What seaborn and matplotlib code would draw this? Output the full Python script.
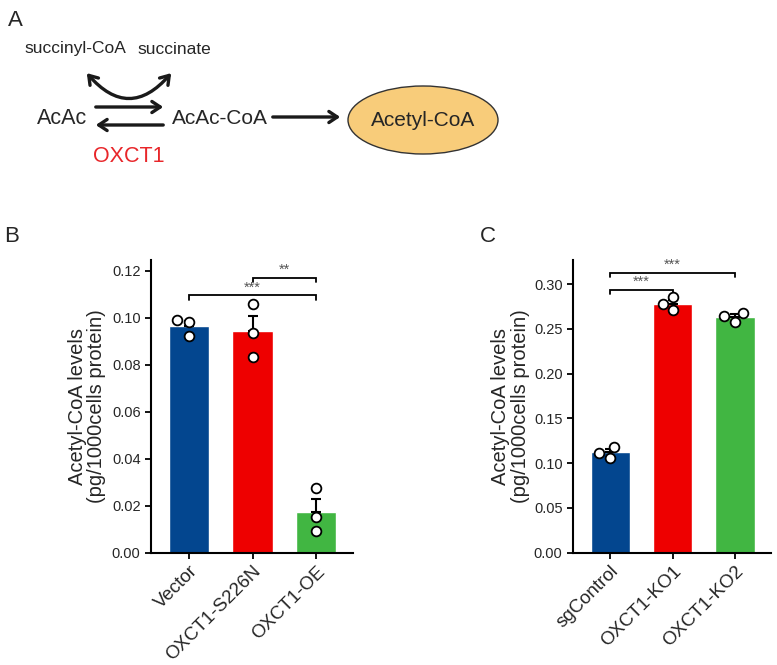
import matplotlib
matplotlib.use("Agg")
import matplotlib.pyplot as plt
from matplotlib.patches import Ellipse, FancyArrowPatch
import numpy as np
import pandas as pd
import seaborn as sns

sns.set_style("ticks")
plt.rcParams["font.family"] = ["Liberation Sans", "DejaVu Sans"]

# panel B data (replicates)
groups_b = ["Vector", "OXCT1-S226N", "OXCT1-OE"]
reps_b = [[0.0980, 0.0990, 0.0924], [0.1059, 0.0934, 0.0834], [0.0278, 0.0155, 0.0094]]
yticks_b = [0.00, 0.02, 0.04, 0.06, 0.08, 0.10, 0.12]

# panel C data
groups_c = ["sgControl", "OXCT1-KO1", "OXCT1-KO2"]
reps_c = [[0.1183, 0.1116, 0.1060], [0.2709, 0.2783, 0.2857], [0.2578, 0.2641, 0.2678]]
yticks_c = [0.00, 0.05, 0.10, 0.15, 0.20, 0.25, 0.30]

bar_colors = ["#03468F", "#EE0000", "#41B642"]
text_col = "#262626"


def to_frame(groups, reps):
    rows = [(g, v) for g, vals in zip(groups, reps) for v in vals]
    return pd.DataFrame(rows, columns=["group", "value"])


def bracket(ax, x1, x2, y, drop, label):
    ax.plot([x1, x1, x2, x2], [y - drop, y, y, y - drop], color="black", lw=1.3,
            solid_joinstyle="miter", clip_on=False)
    ax.text((x1 + x2) / 2, y + drop * 0.2, label, ha="center", va="bottom",
            fontsize=10.5, color="#555555")


def bar_panel(ax, groups, reps, yticks, ymax, fmt):
    df = to_frame(groups, reps)
    sns.barplot(data=df, x="group", y="value", hue="group", palette=bar_colors,
                saturation=1, errorbar=None, width=0.635, legend=False, ax=ax, zorder=1)
    means = df.groupby("group", sort=False)["value"].mean().to_numpy()
    sems = df.groupby("group", sort=False)["value"].sem().to_numpy()
    ax.errorbar(np.arange(len(groups)), means, yerr=[np.zeros_like(sems), sems],
                fmt="none", ecolor="black", elinewidth=1.5, capsize=3.5,
                capthick=1.5, zorder=2)
    sns.swarmplot(data=df, x="group", y="value", color="white", edgecolor="black",
                  linewidth=1.3, size=7, ax=ax, zorder=3)
    ax.set_ylim(0, ymax)
    ax.set_xlim(-0.6, 2.58)
    ax.set_yticks(yticks)
    ax.set_yticklabels([fmt.format(t) for t in yticks], fontsize=10.5, color=text_col)
    ax.set_xticks(range(len(groups)))
    ax.set_xticklabels(groups, rotation=45, ha="right", va="top",
                       rotation_mode="anchor", fontsize=13.5, color=text_col)
    ax.tick_params(axis="x", pad=3)
    ax.set_xlabel("")
    ax.set_ylabel("Acetyl-CoA levels\n(pg/1000cells protein)", fontsize=14.5,
                  color=text_col, linespacing=1.05, va="center")
    ax.yaxis.set_label_coords(-0.317, 0.5)
    sns.despine(ax=ax)
    for s in ["left", "bottom"]:
        ax.spines[s].set_linewidth(1.5)
        ax.spines[s].set_color("black")
    ax.tick_params(width=1.3, length=4, color="black")


fig = plt.figure(figsize=(7.77, 6.65), dpi=100)

# ---- panel A: schematic, drawn in pixel coordinates
ax_a = fig.add_axes([0, 1 - 180 / 665, 1, 180 / 665])
ax_a.set_xlim(0, 777)
ax_a.set_ylim(180, 0)
ax_a.axis("off")
ax_a.text(75, 49, "succinyl-CoA", ha="center", va="center", fontsize=12.5, color=text_col)
ax_a.text(174, 49, "succinate", ha="center", va="center", fontsize=12.5, color=text_col)
ax_a.text(62, 119, "AcAc", ha="center", va="center", fontsize=15.5, color=text_col)
ax_a.text(220, 119, "AcAc-CoA", ha="center", va="center", fontsize=15, color=text_col)
ax_a.text(129, 157, "OXCT1", ha="center", va="center", fontsize=15.5, color="#E8262A")
ax_a.add_patch(Ellipse((423, 120), 150, 68, facecolor="#F8CC7A", edgecolor="#333333", lw=1.0))
ax_a.text(423, 120, "Acetyl-CoA", ha="center", va="center", fontsize=15, color=text_col)
arrow_kw = dict(arrowstyle="->,head_length=6,head_width=4", color="#1a1a1a", lw=2.4,
                mutation_scale=1)
ax_a.add_patch(FancyArrowPatch((93, 107), (166, 107), **arrow_kw))
ax_a.add_patch(FancyArrowPatch((166, 125), (93, 125), **arrow_kw))
ax_a.add_patch(FancyArrowPatch((270, 117), (343, 117), **arrow_kw))
ax_a.add_patch(FancyArrowPatch((85, 71), (173, 71), connectionstyle="arc3,rad=0.6",
                               arrowstyle="<->,head_length=6,head_width=4",
                               color="#1a1a1a", lw=2.4, mutation_scale=1))

# ---- panel B
ax_b = fig.add_axes([151 / 777, 1 - 553 / 665, 202 / 777, 293 / 665])
bar_panel(ax_b, groups_b, reps_b, yticks_b, 0.1245, "{:.2f}")
bracket(ax_b, 0, 2, 0.1095, 0.0018, "***")
bracket(ax_b, 1, 2, 0.1168, 0.0018, "**")

# ---- panel C
ax_c = fig.add_axes([573 / 777, 1 - 552.7 / 665, 198 / 777, 292.7 / 665])
bar_panel(ax_c, groups_c, reps_c, yticks_c, 0.327, "{:.2f}")
bracket(ax_c, 0, 1, 0.294, 0.0045, "***")
bracket(ax_c, 0, 2, 0.3125, 0.0045, "***")

for lbl, x, y in [("A", 15, 20), ("B", 12, 237), ("C", 488, 237)]:
    fig.text(x / 777, 1 - y / 665, lbl, ha="center", va="center", fontsize=16, color=text_col)

fig.savefig("out.png", dpi=100)
